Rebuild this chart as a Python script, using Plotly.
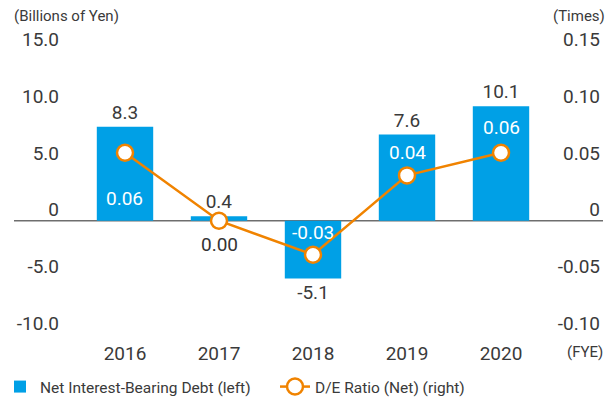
import plotly.graph_objects as go

# Fiscal years and values
years = ["2016", "2017", "2018", "2019", "2020"]
net_debt = [8.3, 0.4, -5.1, 7.6, 10.1]          # billions of yen (left axis)
de_ratio = [0.06, 0.00, -0.03, 0.04, 0.06]      # times (right axis)

left_ticks = [-10, -5, 0, 5, 10, 15]
left_tick_text = ["-10.0", "-5.0", "0", "5.0", "10.0", "15.0"]
right_ticks = [-0.10, -0.05, 0, 0.05, 0.10, 0.15]
right_tick_text = ["-0.10", "-0.05", "0", "0.05", "0.10", "0.15"]

# label styling for the ratio values (vertical offset in px, colour)
ratio_label_shift = [-46, -24, 22, 23, 25]
ratio_label_color = ["white", "#333333", "white", "white", "white"]

BLUE = "#00a0e6"
ORANGE = "#f08300"
TEXT = "#3a3a3a"
FONT = "Roboto"

W, H = 616, 399

fig = go.Figure()

fig.add_trace(go.Bar(
    x=years, y=net_debt, name="Net Interest-Bearing Debt (left)",
    marker=dict(color=BLUE, line=dict(width=0)), width=0.6,
    text=[f"{v:.1f}" for v in net_debt], textposition="outside",
    textfont=dict(family=FONT, size=19, color=TEXT),
    constraintext="none", cliponaxis=False,
))

fig.add_trace(go.Scatter(
    x=years, y=de_ratio, yaxis="y2", name="D/E Ratio (Net) (right)",
    mode="lines+markers",
    line=dict(color=ORANGE, width=2.5),
    marker=dict(size=16, color="white", line=dict(color=ORANGE, width=2.5)),
    cliponaxis=False,
))

# ratio value labels (category axis positions are given by index)
for i, (r, dy, col) in enumerate(zip(de_ratio, ratio_label_shift, ratio_label_color)):
    fig.add_annotation(
        x=i, y=r, xref="x", yref="y2", text=f"{r:.2f}", showarrow=False,
        yshift=dy, font=dict(family=FONT, size=19, color=col),
    )

# baseline across the whole chart width
fig.add_shape(type="line", xref="paper", yref="y", x0=14 / W, x1=603 / W,
              y0=0, y1=0, line=dict(color="#6e6e6e", width=1.5), layer="below")

# unit captions
fig.add_annotation(xref="paper", yref="paper", x=12 / W, y=1 - 16 / H,
                   xanchor="left", yanchor="middle", showarrow=False,
                   text="(Billions of Yen)", font=dict(family=FONT, size=15, color=TEXT))
fig.add_annotation(xref="paper", yref="paper", x=607 / W, y=1 - 16 / H,
                   xanchor="right", yanchor="middle", showarrow=False,
                   text="(Times)", font=dict(family=FONT, size=15, color=TEXT))
fig.add_annotation(xref="paper", yref="paper", x=605 / W, y=1 - 352 / H,
                   xanchor="right", yanchor="middle", showarrow=False,
                   text="(FYE)", font=dict(family=FONT, size=15, color=TEXT))

# vertical scale: 0 sits at pixel row 220.7, 11.33 px per billion yen
PX_PER_UNIT = 11.33
ZERO_ROW = 220.7
Y_LO, Y_HI = -12.5, 17.5          # a little headroom so edge tick labels stay visible
row_lo = ZERO_ROW - Y_LO * PX_PER_UNIT
row_hi = ZERO_ROW - Y_HI * PX_PER_UNIT
ydom = [1 - row_lo / H, 1 - row_hi / H]

fig.update_layout(
    width=W, height=H,
    margin=dict(l=0, r=0, t=0, b=0, autoexpand=False),
    paper_bgcolor="white", plot_bgcolor="white",
    showlegend=True,
    legend=dict(orientation="h", x=0, y=1 - 387 / H, yanchor="middle",
                xanchor="left", font=dict(family=FONT, size=15.5, color=TEXT),
                entrywidthmode="pixels", entrywidth=230,
                bgcolor="rgba(0,0,0,0)", itemclick=False, traceorder="normal"),
    xaxis=dict(type="category", categoryorder="array", categoryarray=years,
               range=[-0.5, len(years) - 0.5], autorange=False,
               domain=[78 / W, 548 / W], showgrid=False,
               showline=False, zeroline=False, ticks="", ticklabelstandoff=-22,
               tickfont=dict(family=FONT, size=19, color=TEXT), automargin=False),
    yaxis=dict(domain=ydom, range=[Y_LO, Y_HI], tickvals=left_ticks,
               ticktext=left_tick_text, showgrid=False, zeroline=False,
               showline=False, ticks="", ticklabelstandoff=18, ticklabelshift=-11,
               tickfont=dict(family=FONT, size=19, color=TEXT), automargin=False),
    yaxis2=dict(domain=ydom, range=[Y_LO / 100, Y_HI / 100], overlaying="y",
                side="right", anchor="free", position=603 / W,
                ticklabelposition="inside",
                tickvals=right_ticks, ticktext=right_tick_text,
                showgrid=False, zeroline=False, showline=False, ticks="",
                ticklabelshift=-11, ticklabelstandoff=0,
                tickfont=dict(family=FONT, size=19, color=TEXT), automargin=False),
)

fig.write_html("out.html")
